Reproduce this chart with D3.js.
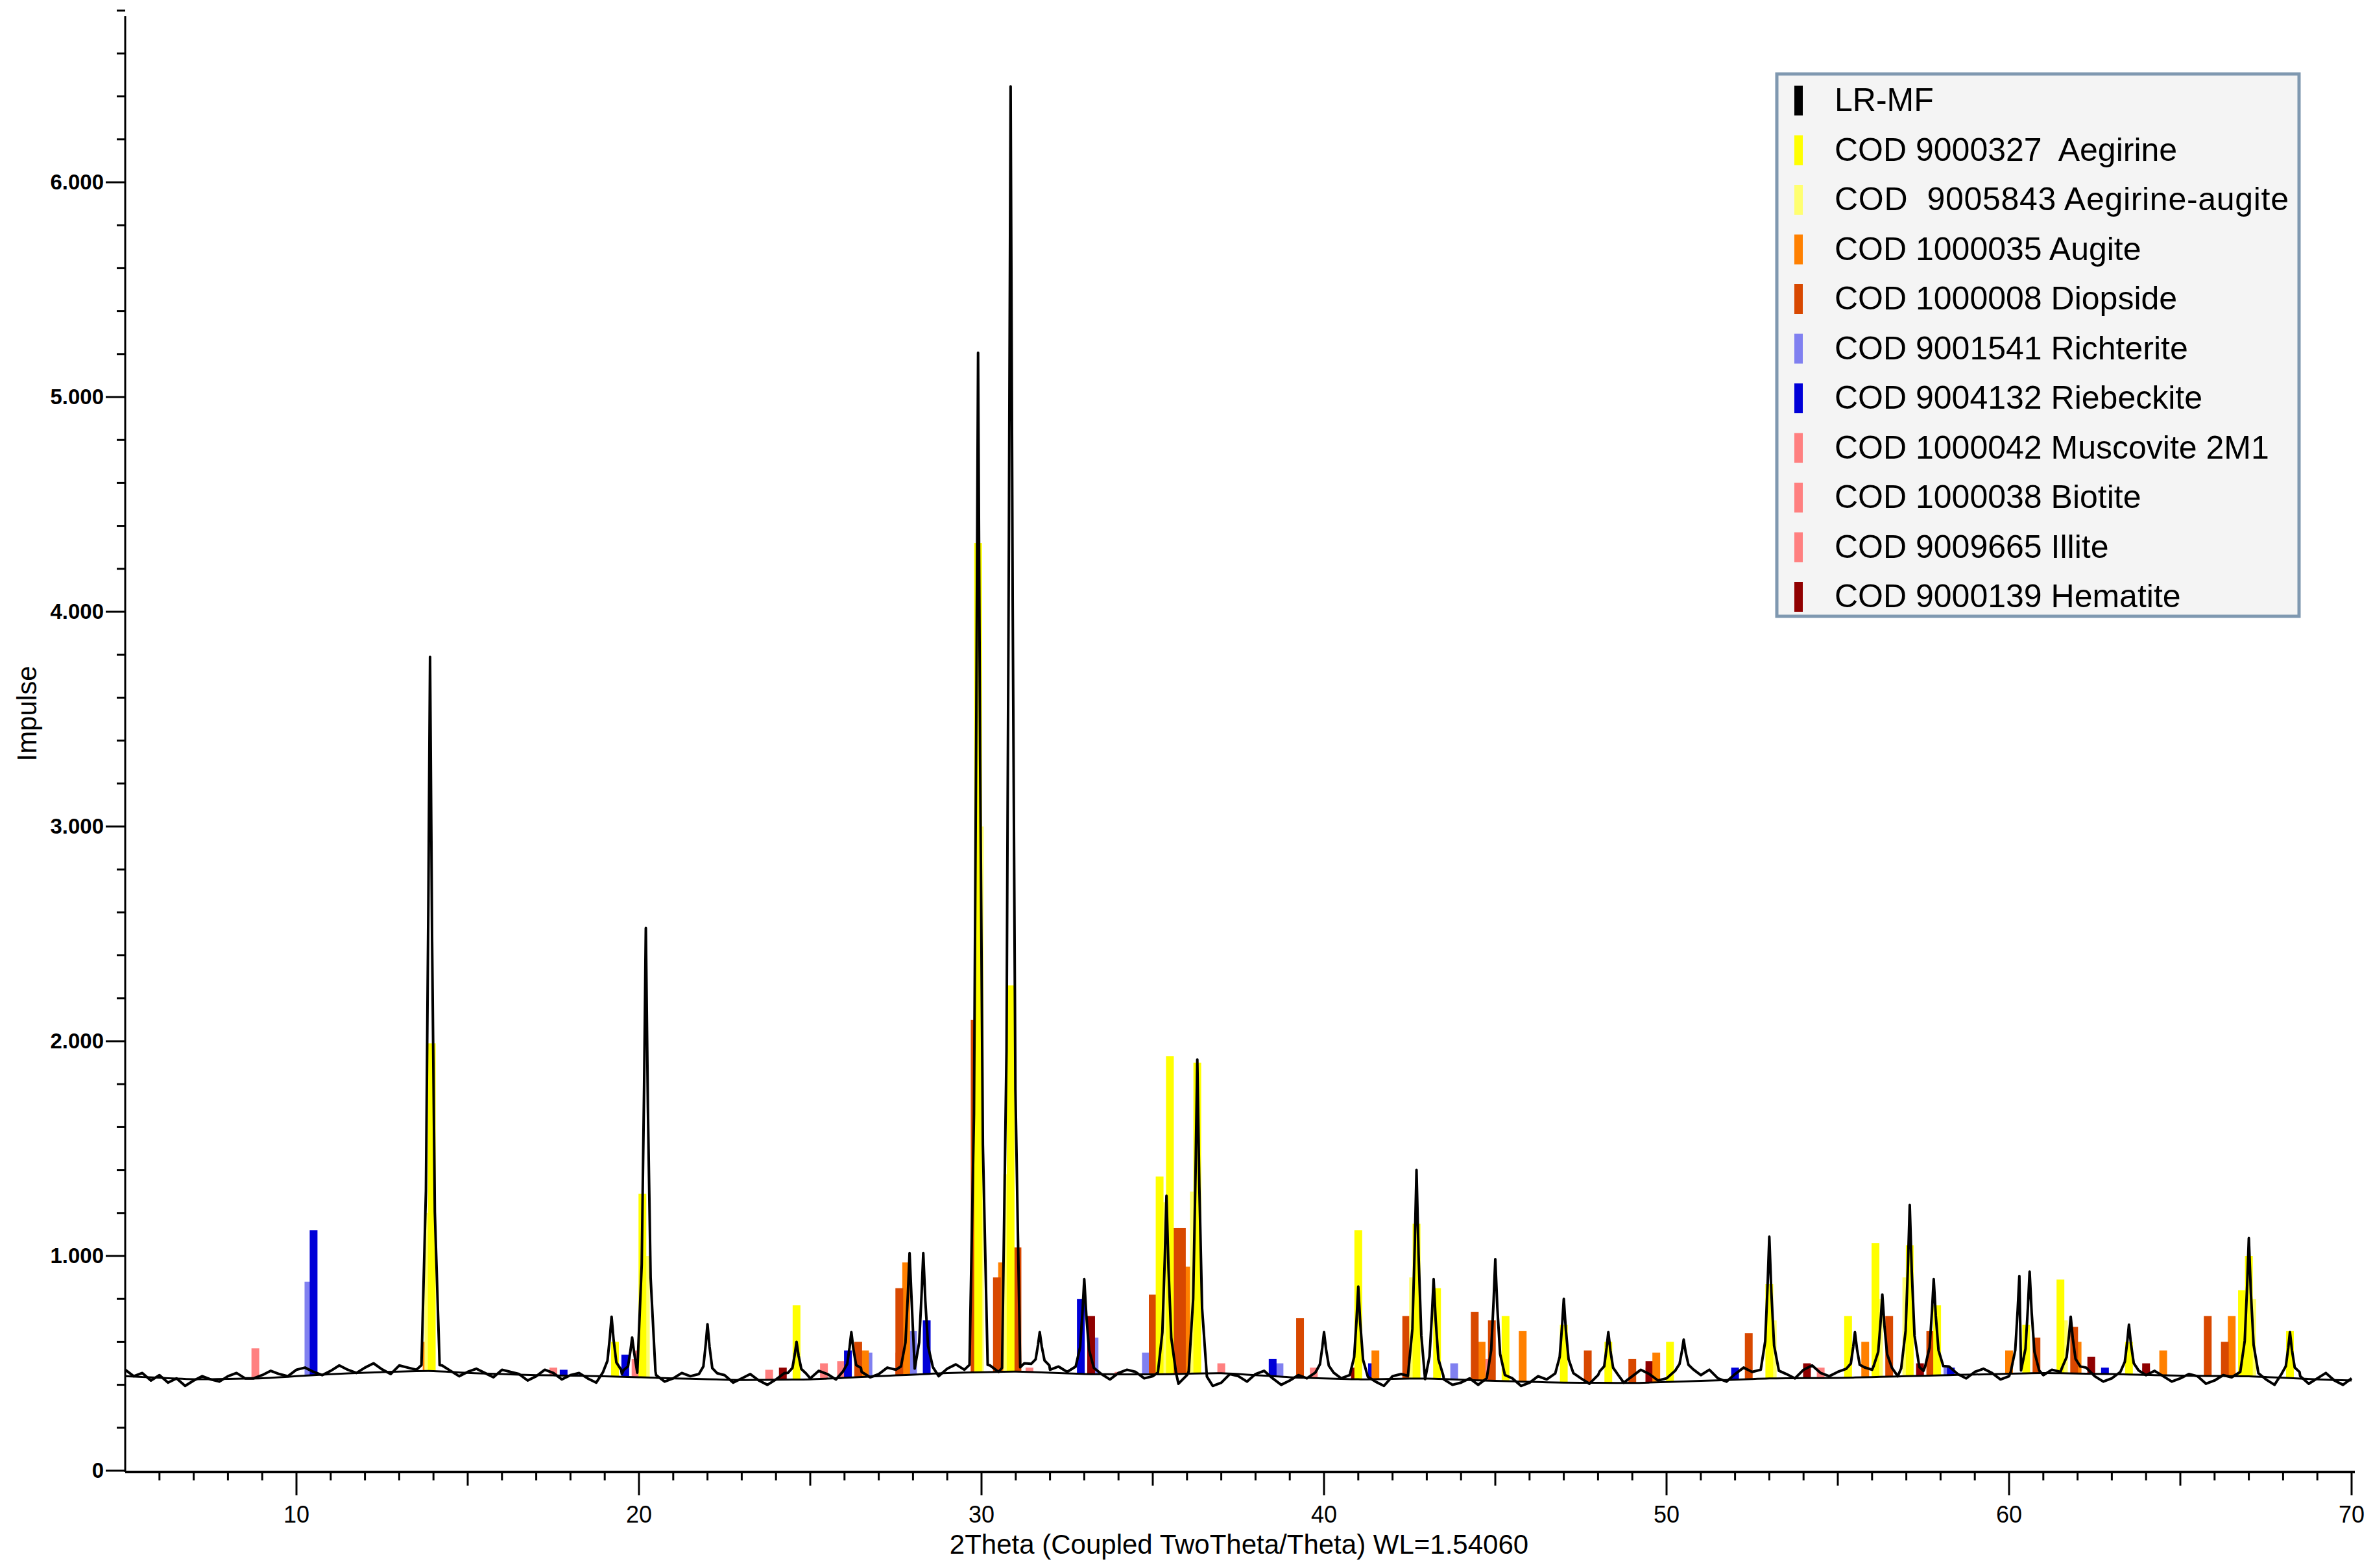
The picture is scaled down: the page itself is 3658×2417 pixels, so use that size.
<!DOCTYPE html>
<html>
<head>
<meta charset="utf-8">
<script src="https://cdn.jsdelivr.net/npm/d3@7"></script>
<style>
  body { margin: 0; background: #fff; }
  svg { display: block; }
</style>
</head>
<body>
<div id="chart"></div>
<script>
// background curve (smooth)
var bgX = [5, 7, 9, 11, 13, 14, 15, 17, 19, 21, 23, 25, 27, 29, 31, 33, 35, 37, 39, 41, 43, 45, 47, 49, 51, 53, 55, 57, 59, 61, 63, 65, 67, 69, 70];
var bgY = [440, 425, 430, 450, 462, 465, 455, 445, 440, 430, 422, 425, 440, 455, 462, 450, 448, 455, 435, 425, 430, 418, 410, 408, 418, 430, 432, 440, 448, 455, 450, 442, 440, 425, 420];

// measured pattern baseline (every 0.5 deg from 5 to 70)
var baseY = [470, 455, 445, 430, 420, 425, 440, 430, 445, 450, 470, 460, 465, 470, 480, 472, 490, 470, 475, 465,
             460, 455, 470, 450, 440, 455, 445, 430, 440, 450, 435, 445, 430, 440, 420, 445, 430, 420, 425, 440,
             430, 450, 440, 460, 450, 470, 455, 460, 475, 470, 480, 460, 455, 480, 470, 460, 470, 450, 455, 460,
             440, 430, 445, 420, 410, 440, 450, 430, 420, 430, 445, 430, 420, 415, 440, 420, 405, 425, 410, 400,
             420, 430, 410, 425, 440, 430, 445, 425, 440, 450, 430, 460, 445, 430, 450, 460, 440, 450, 470, 455,
             460, 450, 470, 460, 455, 465, 470, 450, 460, 455, 440, 450, 445, 460, 470, 440, 430, 450, 445, 440,
             430, 440, 420, 435, 445, 425, 430, 440, 430, 420, 430];
// small wiggles between the baseline points (every 0.5 deg, offset 0.25)
var midY = [440, 420, 410, 395, 440, 415, 455, 430, 465, 440, 480, 445, 490, 455, 500, 450, 480, 445, 490, 440,
            475, 435, 460, 420, 470, 425, 455, 410, 460, 420, 465, 415, 455, 405, 460, 410, 450, 400, 455, 415,
            465, 425, 470, 435, 480, 440, 485, 440, 495, 445, 490, 440, 500, 450, 485, 445, 480, 425, 470, 430,
            455, 405, 460, 395, 450, 415, 465, 400, 445, 405, 460, 400, 440, 395, 450, 390, 435, 400, 430, 385,
            445, 395, 440, 400, 460, 405, 465, 410, 470, 420, 475, 425, 470, 415, 480, 425, 470, 430, 490, 440,
            480, 430, 490, 440, 475, 445, 485, 430, 475, 425, 465, 420, 470, 430, 480, 415, 455, 420, 465, 415,
            450, 405, 445, 410, 460, 400, 450, 405, 455, 400];

// measured peaks: position, top intensity
var peakPos = [13.9, 19.2, 19.8, 20.2, 22.0, 24.6, 26.2, 27.9, 28.3, 29.9, 30.85, 31.7, 33.0, 35.4, 36.3,
               40.0, 41.0, 42.7, 43.2, 45.0, 47.0, 48.3, 50.5, 53.0, 55.5, 56.3, 57.1, 57.8, 60.3, 60.6, 61.8, 63.5, 67.0, 68.2];
var peakTop = [3790, 717, 620, 2527, 682, 600, 645, 1013, 1013, 5206, 6446, 645, 892, 1280, 1915,
               645, 857, 1400, 892, 985, 800, 645, 610, 1090, 645, 820, 1237, 892, 906, 927, 717, 680, 1083, 645];

// reference phases
var phaseNames = ["LR-MF", "COD 9000327  Aegirine", "COD  9005843 Aegirine-augite", "COD 1000035 Augite",
                  "COD 1000008 Diopside", "COD 9001541 Richterite", "COD 9004132 Riebeckite",
                  "COD 1000042 Muscovite 2M1", "COD 1000038 Biotite", "COD 9009665 Illite", "COD 9000139 Hematite"];
var phaseColors = ["#000000", "#ffff00", "#ffff70", "#ff8000", "#d84800", "#8080f0", "#0000d8",
                   "#ff8080", "#ff8080", "#ff8080", "#900000"];

var aegirine = [[13.95, 1990], [19.3, 600], [20.1, 1290], [24.6, 770], [29.9, 4320], [30.85, 2260], [35.2, 1370],
                [35.5, 1930], [36.3, 1900], [41.0, 1120], [42.7, 1150], [43.3, 850], [45.3, 720], [47.0, 680],
                [48.3, 600], [50.1, 600], [53.0, 870], [55.3, 720], [56.1, 1060], [57.1, 1050], [57.9, 770],
                [60.5, 680], [61.5, 890], [63.5, 600], [66.8, 840], [67.0, 1000], [68.2, 650]];
var aegAugite = [[13.85, 1200], [20.2, 1000], [29.95, 3000], [30.75, 1380], [35.4, 1250], [36.2, 1300],
                 [42.6, 900], [53.1, 700], [56.2, 800], [57.0, 900], [61.6, 700], [67.1, 800]];
var augite = [[13.8, 600], [26.6, 560], [27.8, 970], [30.6, 970], [31.0, 1000], [35.3, 870], [36.0, 950],
              [41.5, 560], [44.6, 600], [45.8, 650], [49.7, 550], [55.8, 600], [60.0, 560], [62.0, 600],
              [64.5, 560], [66.5, 720]];
var diopside = [[26.4, 600], [27.6, 850], [29.8, 2100], [30.45, 900], [31.05, 1040], [35.0, 820], [35.65, 1130],
                [35.85, 1130], [39.3, 710], [42.4, 720], [44.4, 740], [44.9, 700], [47.7, 560], [49.0, 520],
                [52.4, 640], [56.5, 720], [57.7, 650], [60.8, 620], [61.9, 670], [65.8, 720], [66.3, 600]];
var richterite = [[10.35, 880], [18.2, 450], [26.7, 550], [28.0, 650], [33.3, 620], [34.8, 550], [38.7, 500],
                  [43.8, 500], [58.2, 480], [64.0, 480]];
var riebeckite = [[10.5, 1120], [17.8, 470], [19.6, 540], [26.1, 560], [28.4, 700], [32.9, 800], [35.6, 620],
                  [38.5, 520], [41.4, 500], [44.5, 480], [52.0, 480], [58.3, 480], [62.8, 480]];
var micas = [[8.8, 570], [17.5, 480], [19.9, 520], [20.0, 560], [23.8, 470], [25.4, 500], [25.9, 510],
             [27.6, 550], [29.8, 630], [31.4, 480], [34.0, 460], [35.2, 540], [37.0, 500], [39.7, 480],
             [44.8, 520], [49.5, 480], [54.5, 480]];
var hematite = [[24.2, 480], [33.2, 720], [35.6, 630], [40.9, 480], [49.5, 510], [54.1, 500], [57.4, 500],
                [62.4, 530], [64.0, 500]];

var yTicks = [0, 1000, 2000, 3000, 4000, 5000, 6000];
var xTicks = [10, 20, 30, 40, 50, 60, 70];

var W = 3658, H = 2417;
var svg = d3.select("#chart").append("svg").attr("width", W).attr("height", H);

var x = d3.scaleLinear().domain([5, 70]).range([193, 3625]);
var y = d3.scaleLinear().domain([0, 6000]).range([2267, 281]);
var bg = d3.scaleLinear().domain(bgX).range(bgY);

// sticks
var stickSets = [[micas, 7], [richterite, 5], [riebeckite, 6], [hematite, 10], [augite, 3], [diopside, 4],
                 [aegAugite, 2], [aegirine, 1]];
stickSets.forEach(function(s) {
    svg.append("g").selectAll("rect")
       .data(s[0])
       .enter()
       .append("rect")
       .attr("x", function(d) { return x(d[0]) - 6; })
       .attr("width", 12)
       .attr("y", function(d) { return y(d[1]); })
       .attr("height", function(d) { return Math.max(0, y(bg(d[0])) - y(d[1])); })
       .attr("fill", phaseColors[s[1]]);
});

// background curve
var bgLine = d3.line().x(function(d) { return x(d); }).y(function(d) { return y(bg(d)); }).curve(d3.curveBasis);
svg.append("path").attr("d", bgLine(d3.range(5, 70.01, 0.5)))
   .attr("fill", "none").attr("stroke", "#000").attr("stroke-width", 3);

// measured pattern
var baseX = baseY.map(function(v, i) { return 5 + i * 0.5; });
var base = d3.scaleLinear().domain(baseX).range(baseY);
var pts = baseX.map(function(v, i) { return [v, baseY[i]]; })
    .concat(midY.map(function(v, i) { return [5.25 + i * 0.5, v]; }));
peakPos.forEach(function(p, i) {
    pts = pts.filter(function(d) { return Math.abs(d[0] - p) > 0.28; });
    pts.push([p - 0.25, base(p - 0.25) + 20]);
    pts.push([p - 0.12, base(p) + (peakTop[i] - base(p)) * 0.25]);
    pts.push([p - 0.05, base(p) + (peakTop[i] - base(p)) * 0.65]);
    pts.push([p, peakTop[i]]);
    pts.push([p + 0.06, base(p) + (peakTop[i] - base(p)) * 0.6]);
    pts.push([p + 0.14, base(p) + (peakTop[i] - base(p)) * 0.22]);
    pts.push([p + 0.28, base(p + 0.28) + 20]);
});
pts.sort(function(a, b) { return a[0] - b[0]; });
var line = d3.line().x(function(d) { return x(d[0]); }).y(function(d) { return y(d[1]); });
svg.append("path").attr("d", line(pts))
   .attr("fill", "none").attr("stroke", "#000").attr("stroke-width", 4).attr("stroke-linejoin", "round");

// axes
var font = "Liberation Sans, Arial, sans-serif";
var yAxis = svg.append("g");
yAxis.append("line").attr("x1", 193).attr("x2", 193).attr("y1", 25).attr("y2", 2269)
     .attr("stroke", "#000").attr("stroke-width", 3);
yAxis.selectAll(".minor").data(d3.range(0, 6801, 200)).enter().append("line")
     .attr("x1", function(d) { return d % 1000 === 0 ? 163 : 180; }).attr("x2", 193)
     .attr("y1", function(d) { return y(d); }).attr("y2", function(d) { return y(d); })
     .attr("stroke", "#000").attr("stroke-width", 3);
yAxis.selectAll("text").data(yTicks).enter().append("text")
     .attr("x", 160).attr("y", function(d) { return y(d) + 11; })
     .attr("text-anchor", "end").attr("font-family", font).attr("font-size", 33).attr("font-weight", "bold")
     .text(function(d) { return d === 0 ? "0" : d3.format(",")(d).replace(",", "."); });

var xAxis = svg.append("g");
xAxis.append("line").attr("x1", 193).attr("x2", 3630).attr("y1", 2269).attr("y2", 2269)
     .attr("stroke", "#000").attr("stroke-width", 4);
xAxis.selectAll(".minor").data(d3.range(6, 71, 1)).enter().append("line")
     .attr("x1", function(d) { return x(d); }).attr("x2", function(d) { return x(d); })
     .attr("y1", 2269).attr("y2", function(d) { return d % 10 === 0 ? 2305 : (d % 5 === 0 ? 2290 : 2282); })
     .attr("stroke", "#000").attr("stroke-width", 3);
xAxis.selectAll("text").data(xTicks).enter().append("text")
     .attr("x", function(d) { return x(d); }).attr("y", 2347)
     .attr("text-anchor", "middle").attr("font-family", font).attr("font-size", 36)
     .text(function(d) { return d; });

svg.append("text").attr("x", 1910).attr("y", 2395).attr("text-anchor", "middle")
   .attr("font-family", font).attr("font-size", 42)
   .text("2Theta (Coupled TwoTheta/Theta) WL=1.54060");
svg.append("text").attr("transform", "translate(56,1100) rotate(-90)").attr("text-anchor", "middle")
   .attr("font-family", font).attr("font-size", 42).text("Impulse");

// legend
var lg = svg.append("g");
lg.append("rect").attr("x", 2739).attr("y", 114).attr("width", 805).attr("height", 836)
  .attr("fill", "#f4f4f4").attr("stroke", "#7f98b0").attr("stroke-width", 5);
var rows = lg.selectAll(".row").data(phaseNames).enter().append("g")
  .attr("transform", function(d, i) { return "translate(0," + (154 + i * 76.5) + ")"; });
rows.append("rect").attr("x", 2766).attr("y", -22).attr("width", 13).attr("height", 46)
  .attr("fill", function(d, i) { return phaseColors[i]; });
rows.append("text").attr("x", 2828).attr("y", 17).attr("font-family", font).attr("font-size", 50)
  .attr("textLength", function(d, i) { return i === 2 ? 700 : null; })
  .attr("xml:space", "preserve").style("white-space", "pre")
  .text(function(d) { return d; });
</script>
</body>
</html>
